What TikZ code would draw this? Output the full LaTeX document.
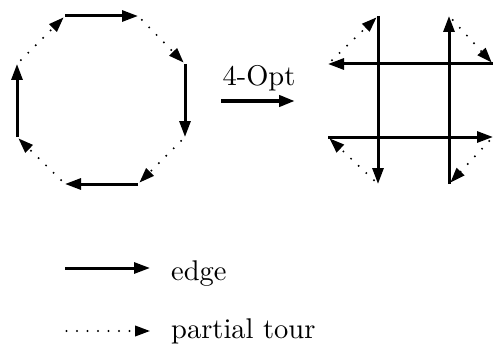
\documentclass[tikz,border=0pt]{standalone}
\usetikzlibrary{arrows.meta}
\font\optfont="[lmroman10-regular.otf]" at 28.5pt
\tikzset{
  edgeline/.style={line width=3pt, -{Triangle[length=16pt,width=11pt]}},
  tourline/.style={line width=2.2pt, line cap=round, dash pattern=on 0pt off 10.5pt, dash phase=5pt,
    -{Triangle[length=15pt,width=10.5pt]}, shorten >=2pt},
  lbl/.style={font=\optfont, inner sep=0pt},
}
\begin{document}
\begin{tikzpicture}[x=1pt, y=-1pt]
\useasboundingbox (0,0) rectangle (493,345);
% octagon
\coordinate (a1) at (65,16);
\coordinate (a2) at (138,16);
\coordinate (a3) at (185,64);
\coordinate (a4) at (185,137);
\coordinate (a5) at (138,184);
\coordinate (a6) at (65,184);
\coordinate (a7) at (17,137);
\coordinate (a8) at (17,64);
\draw[edgeline] (a1) -- (a2);
\draw[tourline] (a2) -- (a3);
\draw[edgeline] (a3) -- (a4);
\draw[tourline] (a4) -- (a5);
\draw[edgeline] (a5) -- (a6);
\draw[tourline] (a6) -- (a7);
\draw[edgeline] (a7) -- (a8);
\draw[tourline] (a8) -- (a1);
% 4-Opt arrow
\node[lbl, anchor=base] (opt) at (259,86) {4-Opt};
\coordinate (m1) at (221,101);
\coordinate (m2) at (295,101);
\draw[line width=4pt, -{Triangle[length=16pt,width=11pt]}] (m1) -- (m2);
% crossed figure
\coordinate (h1l) at (328,64);
\coordinate (h1r) at (493,64);
\coordinate (h2l) at (328,137);
\coordinate (h2r) at (493,137);
\coordinate (v1t) at (378,16);
\coordinate (v1b) at (378,184);
\coordinate (v2t) at (449,16);
\coordinate (v2b) at (449,184);
\draw[edgeline] (h1r) -- (h1l);
\draw[edgeline] (h2l) -- (h2r);
\draw[edgeline] (v1t) -- (v1b);
\draw[edgeline] (v2b) -- (v2t);
\draw[tourline] (h1l) -- (v1t);
\draw[tourline] (v1b) -- (h2l);
\draw[tourline] (h2r) -- (v2b);
\draw[tourline] (v2t) -- (h1r);
% legend
\coordinate (l1s) at (65,268);
\coordinate (l1e) at (150,268);
\draw[edgeline] (l1s) -- (l1e);
\node[lbl, anchor=base west] (edgelbl) at (171,280) {edge};
\coordinate (l2s) at (61,331);
\coordinate (l2e) at (152,331);
\draw[tourline] (l2s) -- (l2e);
\node[lbl, anchor=base west] (tourlbl) at (171,338) {partial tour};
\end{tikzpicture}
\end{document}
